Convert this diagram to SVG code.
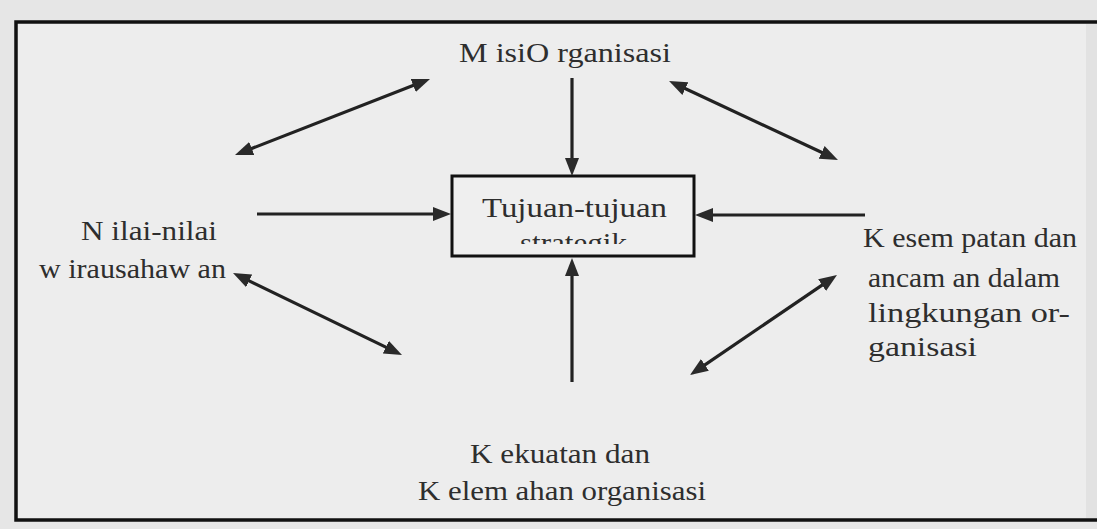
<svg xmlns="http://www.w3.org/2000/svg" width="1097" height="529" viewBox="0 0 1097 529">
  <style>
    .lbl { font-family: "Liberation Serif", "DejaVu Serif", serif; font-size: 28px; fill: #2e2e2e; }
    .conn { stroke: #222; stroke-width: 3.2; fill: none; }
    .frame { fill: #ededed; stroke: #111; stroke-width: 3.5; }
    .box { fill: #efefef; stroke: #111; stroke-width: 3; }
  </style>
  <defs>
    <marker id="head" viewBox="0 0 18 14" refX="8" refY="7" markerWidth="18" markerHeight="14" markerUnits="userSpaceOnUse" orient="auto-start-reverse">
      <path d="M0,0 L18,7 L0,14 z" fill="#2a2a2a"/>
    </marker>
    <clipPath id="boxClip">
      <rect x="455" y="179" width="236" height="65"/>
    </clipPath>
  </defs>

  <!-- page background and outer frame -->
  <rect x="0" y="0" width="1097" height="529" fill="#e6e6e6"/>
  <rect class="frame" x="16" y="22" width="1100" height="498"/>
  <rect x="1086" y="24" width="11" height="494" fill="#e2e2e2"/>

  <!-- connectors -->
  <g id="connectors">
    <line class="conn" x1="244.3" y1="151.4" x2="420.7" y2="82.6" marker-start="url(#head)" marker-end="url(#head)"/>
    <line class="conn" x1="678.1" y1="85.2" x2="828.9" y2="155.8" marker-start="url(#head)" marker-end="url(#head)"/>
    <line class="conn" x1="572" y1="78" x2="572" y2="166" marker-end="url(#head)"/>
    <line class="conn" x1="257" y1="214" x2="441" y2="214" marker-end="url(#head)"/>
    <line class="conn" x1="865" y1="215" x2="705" y2="215" marker-end="url(#head)"/>
    <line class="conn" x1="572" y1="382" x2="572" y2="268" marker-end="url(#head)"/>
    <line class="conn" x1="242" y1="277.4" x2="393" y2="350.6" marker-start="url(#head)" marker-end="url(#head)"/>
    <line class="conn" x1="828.7" y1="280.6" x2="698.3" y2="369.4" marker-start="url(#head)" marker-end="url(#head)"/>
  </g>

  <!-- central box -->
  <g id="tujuan">
    <rect class="box" x="452" y="176" width="242" height="80"/>
    <g clip-path="url(#boxClip)">
      <text class="lbl" x="482" y="217" textLength="185" lengthAdjust="spacingAndGlyphs">Tujuan-tujuan</text>
      <text class="lbl" x="520" y="252" textLength="107" lengthAdjust="spacingAndGlyphs">strategik</text>
    </g>
  </g>

  <g id="misi">
    <text class="lbl" x="459" y="62" textLength="212" lengthAdjust="spacingAndGlyphs">M isiO rganisasi</text>
  </g>

  <g id="nilai">
    <text class="lbl" x="81" y="240" textLength="136" lengthAdjust="spacingAndGlyphs">N ilai-nilai</text>
    <text class="lbl" x="39" y="278" textLength="187" lengthAdjust="spacingAndGlyphs">w irausahaw an</text>
  </g>

  <g id="kesempatan">
    <text class="lbl" x="863" y="247" textLength="214" lengthAdjust="spacingAndGlyphs">K esem patan dan</text>
    <text class="lbl" x="868" y="287" textLength="192" lengthAdjust="spacingAndGlyphs">ancam an dalam</text>
    <text class="lbl" x="868" y="322" textLength="202" lengthAdjust="spacingAndGlyphs">lingkungan or-</text>
    <text class="lbl" x="868" y="356" textLength="109" lengthAdjust="spacingAndGlyphs">ganisasi</text>
  </g>

  <g id="kekuatan">
    <text class="lbl" x="470" y="463" textLength="180" lengthAdjust="spacingAndGlyphs">K ekuatan dan</text>
    <text class="lbl" x="418" y="500" textLength="288" lengthAdjust="spacingAndGlyphs">K elem ahan organisasi</text>
  </g>
</svg>
